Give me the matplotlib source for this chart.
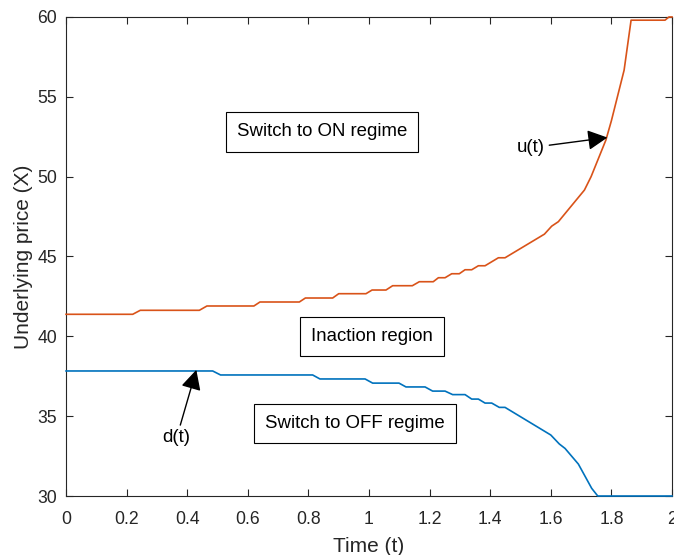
import matplotlib
matplotlib.use('Agg')
import matplotlib.pyplot as plt

# upper boundary u(t) - switch to ON
u_t = [0, 0.22, 0.245, 0.44, 0.465, 0.62, 0.64, 0.77, 0.79, 0.88, 0.90, 0.99, 1.01,
	1.056, 1.078, 1.143, 1.166, 1.212, 1.229, 1.251, 1.273, 1.298, 1.317, 1.339,
	1.361, 1.383, 1.427, 1.449, 1.579, 1.603, 1.625, 1.711, 1.733, 1.782, 1.80,
	1.842, 1.865, 1.977, 1.99, 2.0]
u_x = [41.38, 41.38, 41.63, 41.63, 41.9, 41.9, 42.15, 42.15, 42.4, 42.4, 42.67, 42.67, 42.9,
	42.9, 43.17, 43.17, 43.42, 43.42, 43.67, 43.67, 43.92, 43.92, 44.17, 44.17,
	44.42, 44.42, 44.92, 44.92, 46.4, 46.9, 47.18, 49.16, 50.0, 52.3, 53.5,
	56.67, 59.8, 59.8, 60.0, 60.0]

# lower boundary d(t) - switch to OFF
d_t = [0, 0.484, 0.51, 0.814, 0.838, 0.987, 1.012, 1.099, 1.122, 1.185, 1.21, 1.251,
	1.276, 1.317, 1.339, 1.361, 1.383, 1.405, 1.43, 1.449, 1.6, 1.628, 1.647,
	1.691, 1.735, 1.755, 2.0]
d_x = [37.83, 37.83, 37.58, 37.58, 37.33, 37.33, 37.07, 37.07, 36.83, 36.83, 36.57, 36.57,
	36.35, 36.35, 36.07, 36.07, 35.82, 35.82, 35.55, 35.55, 33.82, 33.26, 32.98,
	32.0, 30.48, 30.0, 30.0]

xticks = [0, 0.2, 0.4, 0.6, 0.8, 1, 1.2, 1.4, 1.6, 1.8, 2]
xticklabels = ['0', '0.2', '0.4', '0.6', '0.8', '1', '1.2', '1.4', '1.6', '1.8', '2']
yticks = [30, 35, 40, 45, 50, 55, 60]

plt.rcParams['font.family'] = ['Liberation Sans', 'DejaVu Sans']
axcol = '#262626'

fig = plt.figure(figsize=(6.74, 5.55), dpi=100)
ax = fig.add_axes([0.098, 0.1063, 0.899, 0.8631])

ax.plot(u_t, u_x, color='#D95319', lw=1.2, clip_on=False, zorder=3)
ax.plot(d_t, d_x, color='#0072BD', lw=1.2, clip_on=False, zorder=3)

ax.set_xlim(0, 2)
ax.set_ylim(30, 60)
ax.set_xticks(xticks)
ax.set_xticklabels(xticklabels)
ax.set_yticks(yticks)
ax.tick_params(direction='in', top=True, right=True, length=5, width=0.8,
	colors=axcol, labelsize=12.7)
ax.tick_params(axis='x', pad=10.5)
ax.tick_params(axis='y', pad=6.5)
for s in ax.spines.values():
	s.set_color(axcol)
	s.set_linewidth(0.8)
ax.set_xlabel('Time (t)', fontsize=15, color=axcol, labelpad=7)
ax.set_ylabel('Underlying price (X)', fontsize=15, color=axcol, labelpad=3)

box = dict(boxstyle='square,pad=0.6', fc='white', ec='black', lw=0.8)
ax.text(0.845, 52.8, 'Switch to ON regime', fontsize=13.4, ha='center', va='center', bbox=box)
ax.text(1.01, 39.99, 'Inaction region', fontsize=13.4, ha='center', va='center', bbox=box)
ax.text(0.954, 34.54, 'Switch to OFF regime', fontsize=13.4, ha='center', va='center', bbox=box)

arr = dict(arrowstyle='-|>,head_length=0.55,head_width=0.28', color='black', lw=1.0,
	mutation_scale=22, shrinkA=1, shrinkB=0)
ax.annotate('u(t)', xy=(1.787, 52.45), xytext=(1.535, 51.82), fontsize=13.4,
	ha='center', va='center', arrowprops=arr)
ax.annotate('d(t)', xy=(0.43, 37.9), xytext=(0.365, 33.65), fontsize=13.4,
	ha='center', va='center', arrowprops=arr)

fig.savefig('out.png', dpi=100)
